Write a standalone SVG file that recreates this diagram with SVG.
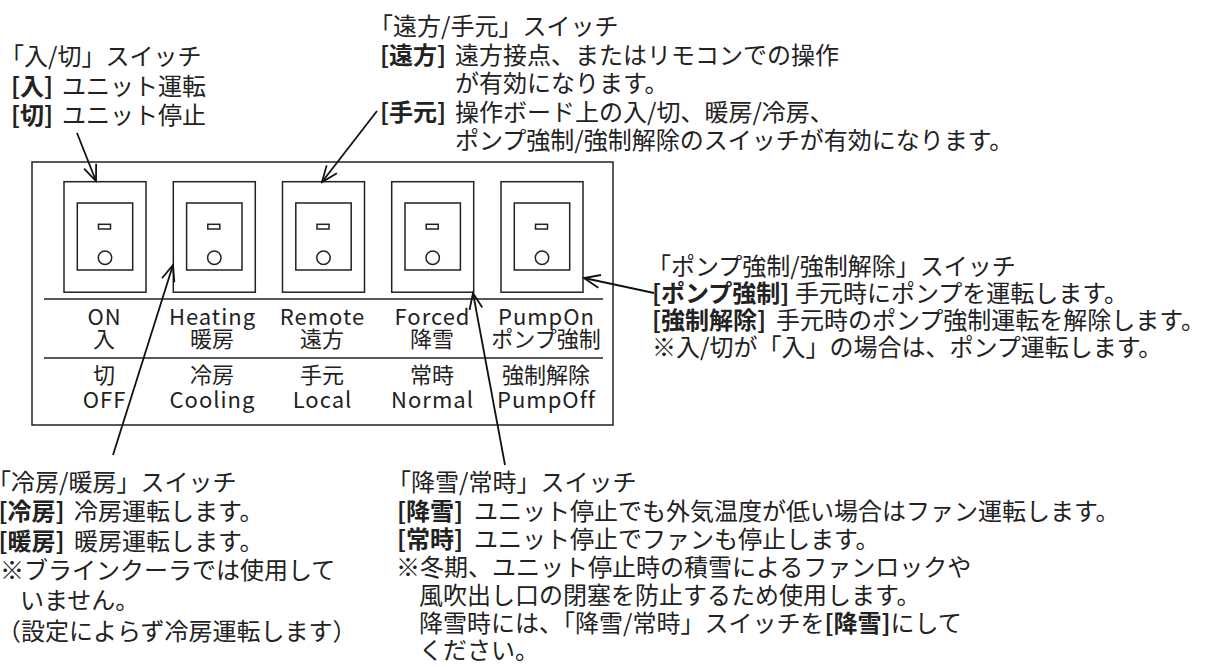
<svg xmlns="http://www.w3.org/2000/svg" width="1206" height="667" viewBox="0 0 1206 667">
<defs>
<style>
.t{font-family:"Noto Sans CJK JP","Noto Sans",sans-serif;font-size:24px;fill:#222}
.b{font-weight:bold}
.l{font-family:"Noto Sans CJK JP","Noto Sans",sans-serif;font-size:22px;fill:#222;text-anchor:middle}
.e{letter-spacing:1px}
.box{fill:none;stroke:#222;stroke-width:1.5}
.ln{fill:none;stroke:#222;stroke-width:1.5}
.con{fill:none;stroke:#111;stroke-width:1.8;marker-end:url(#ah)}
</style>
<marker id="ah" markerUnits="userSpaceOnUse" markerWidth="19" markerHeight="15" refX="17" refY="7.5" orient="auto">
<path d="M1,1 L17,7.5 L1,14" fill="none" stroke="#111" stroke-width="1.8"/>
</marker>
<g id="sw">
<rect class="box" x="0" y="0" width="82" height="110.5"/>
<rect class="box" x="13.3" y="21.3" width="55.4" height="67"/>
<rect class="box" x="34.5" y="42.6" width="12" height="4.7" stroke-width="1.3"/>
<circle class="box" cx="41" cy="76" r="6.7" stroke-width="1.3"/>
</g>
</defs>
<rect width="1206" height="667" fill="#fff"/>

<g id="panel">
<rect class="box" x="32" y="162" width="581" height="263"/>
<line class="ln" x1="44" y1="299" x2="603" y2="299"/>
<line class="ln" x1="44" y1="358" x2="603" y2="358"/>
</g>

<g id="sw-on">
<use href="#sw" x="64" y="181.7"/>
<text class="l e" x="104.5" y="325">ON</text>
<text class="l" x="104" y="346.5">入</text>
<text class="l" x="104" y="383">切</text>
<text class="l e" x="104.5" y="408">OFF</text>
</g>
<g id="sw-heat">
<use href="#sw" x="173.3" y="181.7"/>
<text class="l e" x="212.5" y="325">Heating</text>
<text class="l" x="212" y="346.5">暖房</text>
<text class="l" x="212" y="383">冷房</text>
<text class="l e" x="212.5" y="408">Cooling</text>
</g>
<g id="sw-remote">
<use href="#sw" x="282.5" y="181.7"/>
<text class="l e" x="322.5" y="325">Remote</text>
<text class="l" x="322" y="346.5">遠方</text>
<text class="l" x="322" y="383">手元</text>
<text class="l e" x="322.5" y="408">Local</text>
</g>
<g id="sw-forced">
<use href="#sw" x="391.7" y="181.7"/>
<text class="l e" x="432.5" y="325">Forced</text>
<text class="l" x="432" y="346.5">降雪</text>
<text class="l" x="432" y="383">常時</text>
<text class="l e" x="432.5" y="408">Normal</text>
</g>
<g id="sw-pump">
<use href="#sw" x="501" y="181.7"/>
<text class="l e" x="546.5" y="325">PumpOn</text>
<text class="l" x="546" y="346.5">ポンプ強制</text>
<text class="l" x="546" y="383">強制解除</text>
<text class="l e" x="546.5" y="408">PumpOff</text>
</g>

<g id="note-onoff">
<text class="t" x="0" y="65">「入/切」スイッチ</text>
<text class="t" x="11" y="94.5"><tspan class="b">[入]</tspan><tspan x="62">ユニット運転</tspan></text>
<text class="t" x="11" y="124"><tspan class="b">[切]</tspan><tspan x="62">ユニット停止</tspan></text>
</g>

<g id="note-remote">
<text class="t" x="369" y="35">「遠方/手元」スイッチ</text>
<text class="t" x="380" y="63.5"><tspan class="b">[遠方]</tspan><tspan x="455">遠方接点、またはリモコンでの操作</tspan></text>
<text class="t" x="455" y="92">が有効になります。</text>
<text class="t" x="380" y="120.5"><tspan class="b">[手元]</tspan><tspan x="455">操作ボード上の入/切、暖房/冷房、</tspan></text>
<text class="t" x="455" y="149">ポンプ強制/強制解除のスイッチが有効になります。</text>
</g>

<g id="note-pump">
<text class="t" x="647" y="275">「ポンプ強制/強制解除」スイッチ</text>
<text class="t" x="652" y="302"><tspan class="b">[ポンプ強制]</tspan><tspan x="795">手元時にポンプを運転します。</tspan></text>
<text class="t" x="652" y="329"><tspan class="b">[強制解除]</tspan><tspan x="776">手元時のポンプ強制運転を解除します。</tspan></text>
<text class="t" x="652" y="356">※入/切が「入」の場合は、ポンプ運転します。</text>
</g>

<g id="note-cool">
<text class="t" x="-13" y="491">「冷房/暖房」スイッチ</text>
<text class="t" x="-1.5" y="520"><tspan class="b">[冷房]</tspan><tspan x="74">冷房運転します。</tspan></text>
<text class="t" x="-1.5" y="549.5"><tspan class="b">[暖房]</tspan><tspan x="74">暖房運転します。</tspan></text>
<text class="t" x="0" y="578.5">※ブラインクーラでは使用して</text>
<text class="t" x="20" y="609">いません。</text>
<text class="t" x="-3" y="640">（設定によらず冷房運転します）</text>
</g>

<g id="note-snow">
<text class="t" x="387" y="491">「降雪/常時」スイッチ</text>
<text class="t" x="397" y="519.5"><tspan class="b">[降雪]</tspan><tspan x="474">ユニット停止でも外気温度が低い場合はファン運転します。</tspan></text>
<text class="t" x="397" y="547.5"><tspan class="b">[常時]</tspan><tspan x="474">ユニット停止でファンも停止します。</tspan></text>
<text class="t" x="396" y="575.5">※冬期、ユニット停止時の積雪によるファンロックや</text>
<text class="t" x="419" y="603.5">風吹出し口の閉塞を防止するため使用します。</text>
<text class="t" x="419" y="631.5">降雪時には、「降雪/常時」スイッチを<tspan class="b">[降雪]</tspan>にして</text>
<text class="t" x="419" y="659">ください。</text>
</g>

<g id="connectors">
<line class="con" x1="77" y1="133" x2="96" y2="181"/>
<line class="con" x1="377" y1="111" x2="322" y2="182"/>
<line class="con" x1="113" y1="455" x2="173" y2="265"/>
<line class="con" x1="505" y1="465" x2="473" y2="293"/>
<line class="con" x1="654" y1="293" x2="584" y2="278"/>
</g>
</svg>
